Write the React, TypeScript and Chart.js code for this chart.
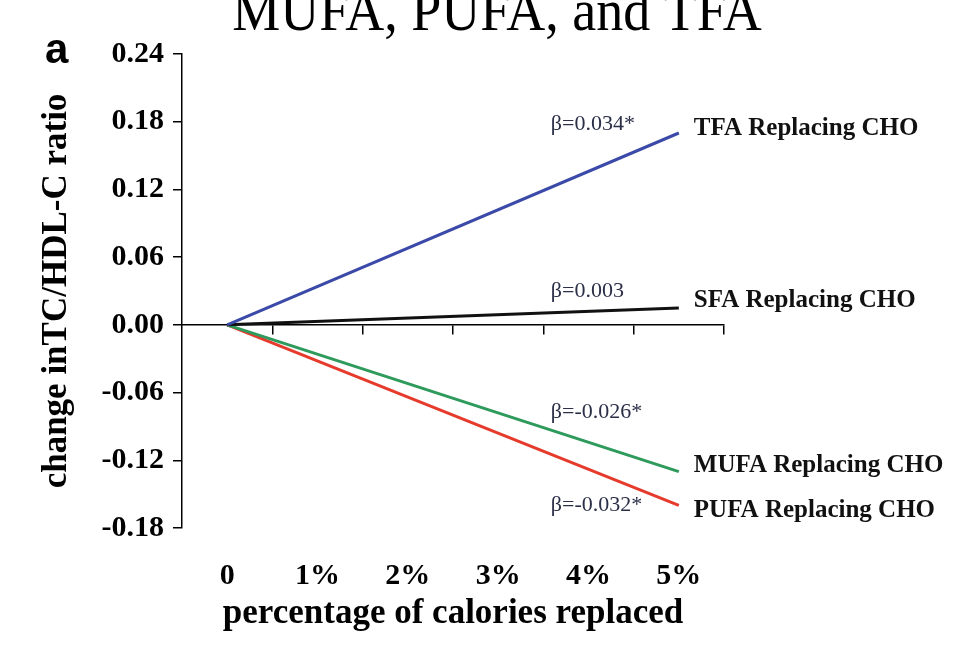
import React, { useEffect, useRef } from "react";
import { Chart, registerables } from "chart.js";

Chart.register(...registerables);

// ---- data ----
const titleText = "MUFA, PUFA, and TFA";
const panelLetter = "a";
const xValues = [0, 5];
const tfaValues = [0, 0.17];
const sfaValues = [0, 0.015];
const mufaValues = [0, -0.13];
const pufaValues = [0, -0.16];
const seriesNames = ["TFA Replacing CHO", "SFA Replacing CHO", "MUFA Replacing CHO", "PUFA Replacing CHO"];
const betaLabels = ["β=0.034*", "β=0.003", "β=-0.026*", "β=-0.032*"];
const seriesColors = ["#3b4aa8", "#111111", "#2e9a5c", "#e63a2c"];
const yTickValues = [-0.18, -0.12, -0.06, 0, 0.06, 0.12, 0.18, 0.24];
const yTickLabels = ["-0.18", "-0.12", "-0.06", "0.00", "0.06", "0.12", "0.18", "0.24"];
const xTickValues = [0, 1, 2, 3, 4, 5];
const xTickLabels = ["0", "1%", "2%", "3%", "4%", "5%"];
const xZeroAxisMarks = [0.5, 1.5, 2.5, 3.5, 4.5, 5.5];
const xAxisTitle = "percentage of calories replaced";
const yAxisTitle = "change inTC/HDL-C ratio";

const SERIF = '"Liberation Serif", "Times New Roman", serif';

const annotationPlugin = {
  id: "annotations",
  afterDatasetsDraw(chart: any) {
    const ctx = chart.ctx;
    const xs = chart.scales.x;
    const ys = chart.scales.y;
    ctx.save();
    // title (partially cut off at top), slightly condensed
    ctx.fillStyle = "#000";
    ctx.save();
    ctx.translate(497, 30);
    ctx.scale(0.9, 1);
    ctx.font = `60px ${SERIF}`;
    ctx.textAlign = "center";
    ctx.textBaseline = "alphabetic";
    ctx.fillText(titleText, 0, 0);
    ctx.restore();
    // panel letter
    ctx.font = 'bold 42px "Liberation Sans", Arial, sans-serif';
    ctx.textAlign = "left";
    ctx.textBaseline = "alphabetic";
    ctx.fillText(panelLetter, 45, 63);

    const allValues = [tfaValues, sfaValues, mufaValues, pufaValues];
    const nameDy = [-4, -7, -6, 5];
    const betaDy = [-9, -17, -59, 0];
    const lastX = xValues[xValues.length - 1];
    allValues.forEach((vals, i) => {
      const ex = xs.getPixelForValue(lastX);
      const ey = ys.getPixelForValue(vals[vals.length - 1]);
      ctx.textBaseline = "middle";
      ctx.textAlign = "left";
      ctx.fillStyle = "#111";
      ctx.font = `bold 25px ${SERIF}`;
      ctx.fillText(seriesNames[i], ex + 15, ey + nameDy[i]);
      ctx.fillStyle = "#2b2f48";
      ctx.font = `22px ${SERIF}`;
      ctx.fillText(betaLabels[i], ex - 128, ey + betaDy[i]);
    });
    ctx.restore();
  },
};

export default function App() {
  const ref = useRef<HTMLCanvasElement | null>(null);
  useEffect(() => {
    if (!ref.current) return;
    const mk = (vals: number[]) => xValues.map((x, i) => ({ x, y: vals[i] }));
    const allValues = [tfaValues, sfaValues, mufaValues, pufaValues];
    const chart = new Chart(ref.current, {
      type: "line",
      data: {
        datasets: allValues.map((vals, i) => ({
          label: seriesNames[i],
          data: mk(vals),
          borderColor: seriesColors[i],
          backgroundColor: seriesColors[i],
          borderWidth: 3,
          pointRadius: 0,
          fill: false,
          tension: 0,
        })),
      },
      options: {
        animation: false,
        responsive: false,
        maintainAspectRatio: false,
        layout: { padding: { top: 54, right: 242, bottom: 0, left: 0 } },
        plugins: {
          legend: { display: false },
          tooltip: { enabled: false },
          title: { display: false },
        },
        scales: {
          x: {
            type: "linear",
            position: "bottom",
            min: -0.5,
            max: 5.5,
            afterBuildTicks: (scale: any) => {
              scale.ticks = xTickValues.map((v) => ({ value: v }));
            },
            afterFit: (scale: any) => {
              scale.height = 129;
            },
            grid: { display: false, drawTicks: false },
            border: { display: false },
            ticks: {
              padding: 30,
              color: "#000",
              font: { family: SERIF, size: 30, weight: "bold" },
              maxRotation: 0,
              autoSkip: false,
              callback: (_v: any, i: number) => xTickLabels[i],
            },
            title: {
              display: true,
              text: xAxisTitle,
              color: "#000",
              font: { family: SERIF, size: 35, weight: "bold" },
              padding: { top: 0, bottom: 22 },
            },
          },
          xZero: {
            type: "linear",
            axis: "x",
            position: { y: 0 },
            min: -0.5,
            max: 5.5,
            afterBuildTicks: (scale: any) => {
              scale.ticks = xZeroAxisMarks.map((v) => ({ value: v }));
            },
            grid: {
              display: true,
              drawOnChartArea: false,
              drawTicks: true,
              tickLength: 9,
              color: "#000",
              lineWidth: 1.5,
            },
            border: { display: true, color: "#000", width: 1.5 },
            ticks: { display: false },
          },
          y: {
            type: "linear",
            position: "left",
            min: -0.18,
            max: 0.24,
            afterBuildTicks: (scale: any) => {
              scale.ticks = yTickValues.map((v) => ({ value: v }));
            },
            afterFit: (scale: any) => {
              scale.width = 182;
            },
            grid: {
              display: true,
              drawOnChartArea: false,
              drawTicks: true,
              tickLength: 9,
              color: "#000",
              lineWidth: 1.5,
            },
            border: { display: true, color: "#000", width: 1.5 },
            ticks: {
              padding: 9,
              color: "#000",
              font: { family: SERIF, size: 30, weight: "bold" },
              autoSkip: false,
              callback: (_v: any, i: number) => yTickLabels[i],
            },
            title: {
              display: true,
              text: yAxisTitle,
              color: "#000",
              font: { family: SERIF, size: 35, weight: "bold" },
              padding: { top: 36, bottom: 0 },
            },
          },
        },
      },
      plugins: [annotationPlugin],
    } as any);
    return () => chart.destroy();
  }, []);
  return (
    <div style={{ position: "absolute", left: 0, top: 0, width: 966, height: 657, background: "#fff" }}>
      <canvas ref={ref} width={966} height={657} style={{ display: "block" }} />
    </div>
  );
}
